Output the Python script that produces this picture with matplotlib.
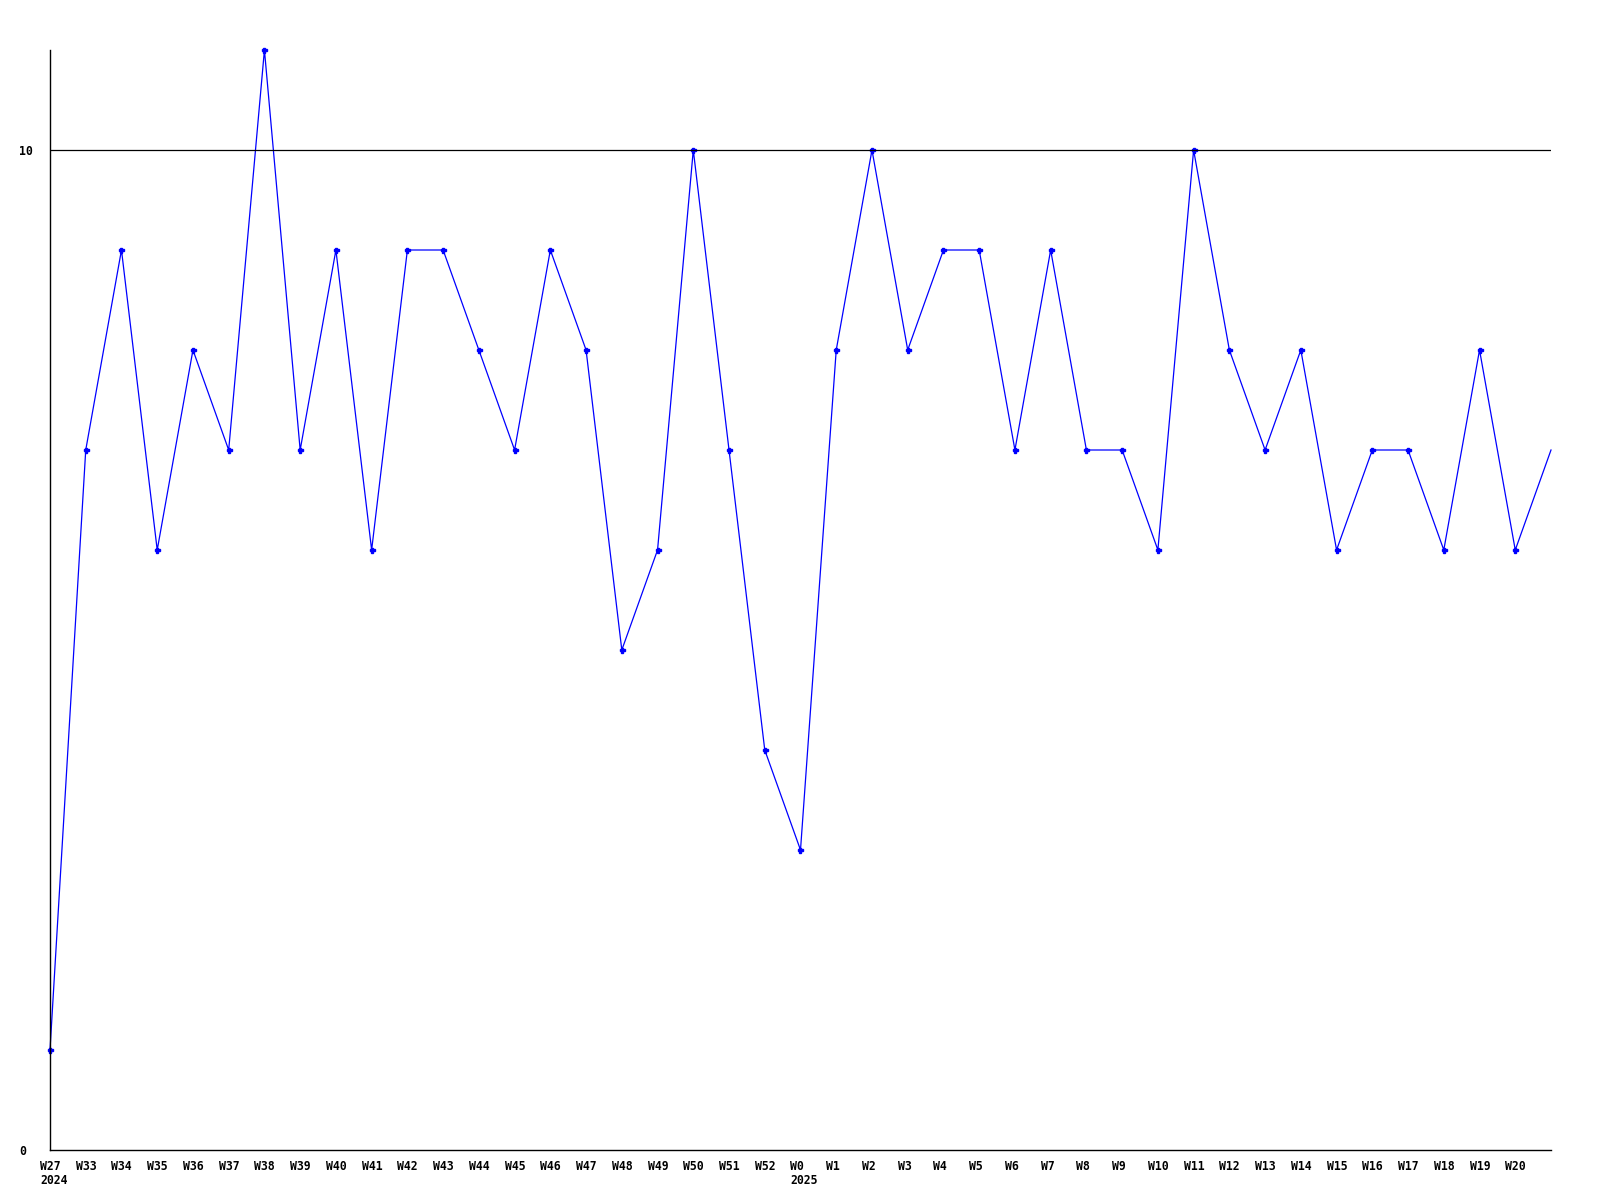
import matplotlib
matplotlib.use('Agg')
import matplotlib.pyplot as plt
from matplotlib.transforms import ScaledTranslation

# weekly values, last point (W21) has no label / marker
weeks = ['W27', 'W33', 'W34', 'W35', 'W36', 'W37', 'W38', 'W39', 'W40', 'W41',
         'W42', 'W43', 'W44', 'W45', 'W46', 'W47', 'W48', 'W49', 'W50', 'W51',
         'W52', 'W0', 'W1', 'W2', 'W3', 'W4', 'W5', 'W6', 'W7', 'W8', 'W9',
         'W10', 'W11', 'W12', 'W13', 'W14', 'W15', 'W16', 'W17', 'W18', 'W19',
         'W20', 'W21']
values = [1, 7, 9, 6, 8, 7, 11, 7, 9, 6,
          9, 9, 8, 7, 9, 8, 5, 6, 10, 7,
          4, 3, 8, 10, 8, 9, 9, 7, 9, 7, 7,
          6, 10, 8, 7, 8, 6, 7, 7, 6, 8,
          6, 7]
years = {'W27': '2024', 'W0': '2025'}
yticks = [0, 10]

font = {'family': ['DejaVu Sans Mono'], 'weight': 'bold', 'size': 8.3}

fig = plt.figure(figsize=(16, 12), dpi=100)
ax = fig.add_axes([50 / 1600, 1 - 1150 / 1200, 1501 / 1600, 1100 / 1200])

x = list(range(len(values)))
ax.plot(x, values, color='#0000ff', linewidth=0.9, marker='P', markersize=3.6,
        markevery=list(range(len(values) - 1)), clip_on=False)
ax.axhline(10, color='black', linewidth=0.9)

ax.set_xlim(0, len(values) - 1)
ax.set_ylim(0, 11)
for s in ['top', 'right']:
    ax.spines[s].set_visible(False)
for s in ['left', 'bottom']:
    ax.spines[s].set_linewidth(1.0)

labels = [w + ('\n' + years[w] if w in years else '') for w in weeks[:-1]]
ax.set_xticks(x[:-1])
ax.set_xticklabels(labels, fontdict=font, ha='left', va='top', linespacing=1.1)
ax.tick_params(axis='x', length=0, pad=7)
off = ScaledTranslation(-10 / 100, 0, fig.dpi_scale_trans)
for lab in ax.get_xticklabels():
    lab.set_transform(lab.get_transform() + off)

ax.set_yticks(yticks)
ax.set_yticklabels([str(v) for v in yticks], fontdict=font, ha='left')
ax.tick_params(axis='y', length=0, pad=22)

fig.savefig('out.png', dpi=100)
